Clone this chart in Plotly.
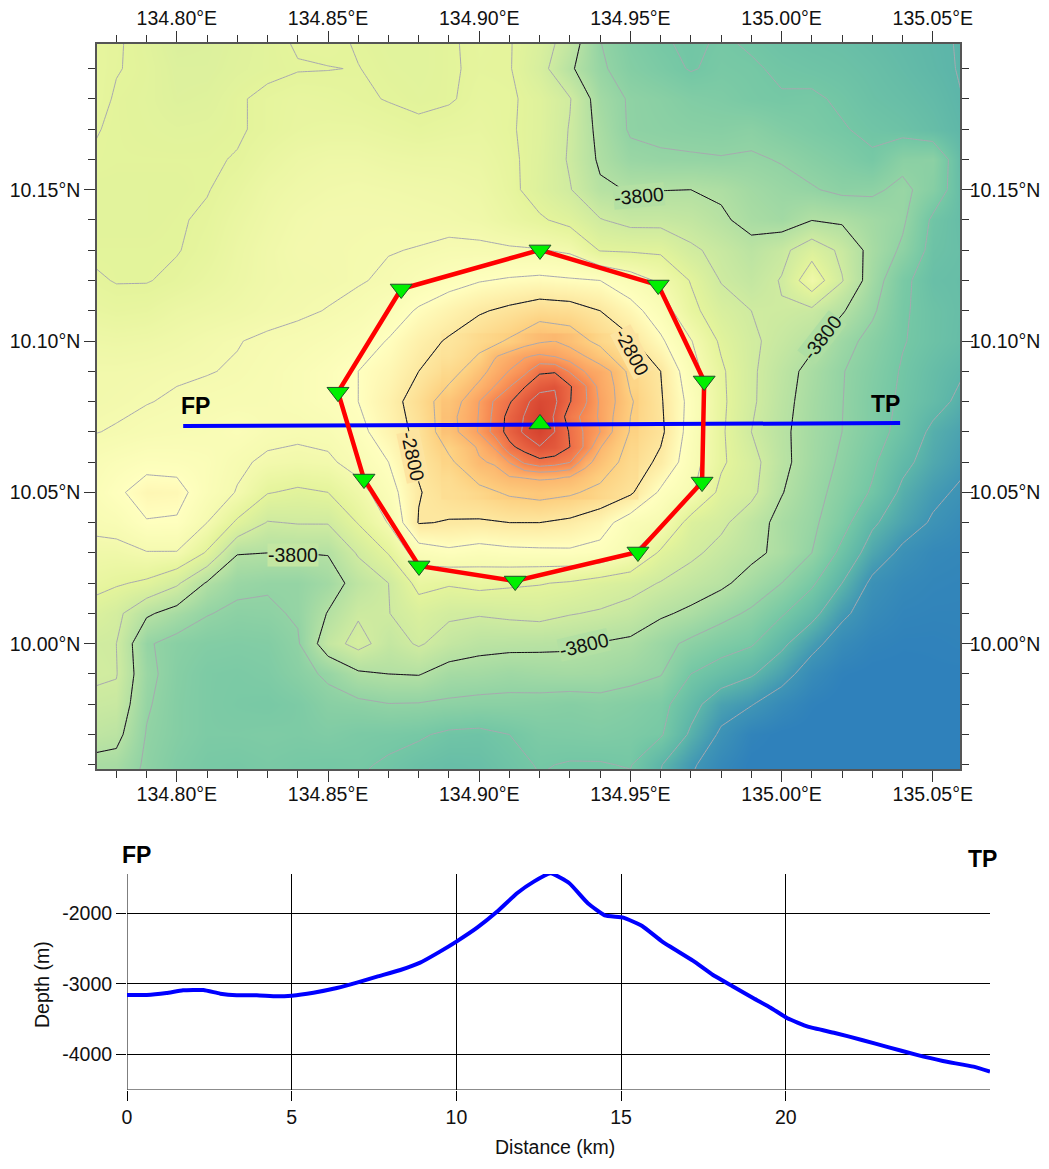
import plotly.graph_objects as go

FONT = "Liberation Sans, Arial, sans-serif"

# ---------- bathymetry grid (depth in m) ----------
lon_nodes = [134.77, 134.78, 134.79, 134.80, 134.81, 134.82, 134.83, 134.84, 134.85, 134.86,
             134.87, 134.88, 134.89, 134.90, 134.91, 134.92, 134.93, 134.94, 134.95, 134.96,
             134.97, 134.98, 134.99, 135.00, 135.01, 135.02, 135.03, 135.04, 135.05, 135.06]
lat_nodes = [10.20, 10.19, 10.18, 10.17, 10.16, 10.15, 10.14, 10.13, 10.12, 10.11, 10.10, 10.09, 10.08,
             10.07, 10.06, 10.05, 10.04, 10.03, 10.02, 10.01, 10.00, 9.99, 9.98, 9.97, 9.96, 9.95]

d1020 = [-3370,-3390,-3430,-3490,-3480,-3450,-3420,-3390,-3380,-3410,-3430,-3430,-3410,-3380,-3390,-3500,-3680,-4000,-4120,-4190,-4220,-4190,-4220,-4260,-4280,-4290,-4320,-4350,-4380,-4410]
d1019 = [-3360,-3395,-3420,-3470,-3470,-3440,-3420,-3405,-3402,-3398,-3420,-3430,-3410,-3385,-3390,-3530,-3770,-3970,-4090,-4150,-4210,-4170,-4185,-4220,-4240,-4260,-4290,-4330,-4370,-4410]
d1018 = [-3350,-3410,-3425,-3460,-3450,-3410,-3380,-3360,-3370,-3385,-3405,-3420,-3410,-3370,-3380,-3450,-3590,-3900,-4020,-4060,-4110,-4130,-4170,-4190,-4180,-4220,-4270,-4300,-4340,-4400]
d1017 = [-3390,-3410,-3420,-3430,-3425,-3410,-3380,-3350,-3340,-3340,-3360,-3380,-3360,-3350,-3385,-3450,-3610,-3860,-4020,-4040,-4060,-4070,-4050,-4110,-4150,-4190,-4230,-4260,-4310,-4380]
d1016 = [-3400,-3410,-3410,-3410,-3410,-3395,-3340,-3300,-3280,-3280,-3300,-3310,-3310,-3320,-3370,-3460,-3620,-3830,-3950,-3975,-3980,-3990,-3980,-4010,-4070,-4120,-4180,-4050,-4040,-4350]
d1015 = [-3420,-3420,-3420,-3420,-3405,-3360,-3300,-3270,-3250,-3240,-3250,-3260,-3270,-3290,-3360,-3470,-3590,-3770,-3810,-3805,-3800,-3830,-3900,-3950,-3985,-4040,-4030,-3960,-4080,-4330]
d1014 = [-3420,-3420,-3420,-3410,-3385,-3330,-3280,-3240,-3220,-3220,-3220,-3230,-3240,-3260,-3320,-3380,-3450,-3590,-3660,-3660,-3690,-3770,-3860,-3900,-3805,-3830,-3900,-3970,-4230,-4320]
d1013 = [-3410,-3410,-3410,-3405,-3370,-3310,-3260,-3225,-3220,-3215,-3205,-3195,-3170,-3170,-3180,-3190,-3230,-3410,-3420,-3430,-3570,-3650,-3740,-3650,-3480,-3640,-3870,-4030,-4260,-4300]
d1012 = [-3380,-3405,-3405,-3380,-3340,-3300,-3260,-3240,-3230,-3210,-3180,-3120,-3060,-3010,-2980,-2960,-2980,-3000,-3110,-3230,-3410,-3610,-3680,-3590,-3260,-3590,-3900,-4160,-4290,-4310]
d1011 = [-3340,-3360,-3350,-3310,-3290,-3270,-3240,-3220,-3195,-3160,-3090,-2980,-2900,-2820,-2760,-2700,-2720,-2800,-2930,-3100,-3350,-3510,-3600,-3610,-3640,-3780,-3970,-4180,-4260,-4310]
d1010 = [-3280,-3290,-3280,-3260,-3230,-3205,-3180,-3160,-3130,-3080,-2990,-2870,-2780,-2680,-2580,-2420,-2480,-2660,-2770,-2970,-3190,-3430,-3570,-3660,-3760,-3930,-4060,-4190,-4260,-4320]
d1009 = [-3240,-3240,-3230,-3215,-3205,-3190,-3160,-3120,-3070,-3000,-2930,-2800,-2680,-2480,-2190,-1820,-1990,-2320,-2650,-2800,-3120,-3370,-3570,-3720,-3860,-3990,-4100,-4215,-4310,-4390]
d1008 = [-3240,-3225,-3205,-3185,-3170,-3160,-3150,-3120,-3070,-3000,-2880,-2710,-2490,-2200,-1830,-1530,-1790,-2230,-2580,-2780,-3060,-3360,-3570,-3740,-3880,-3995,-4120,-4230,-4330,-4450]
d1007 = [-3210,-3190,-3160,-3145,-3130,-3090,-3150,-3165,-3145,-3050,-2905,-2750,-2480,-2130,-1720,-1460,-1820,-2130,-2620,-2760,-3080,-3370,-3600,-3760,-3890,-4000,-4120,-4260,-4440,-4520]
d1006 = [-3140,-3090,-3050,-3060,-3090,-3170,-3230,-3250,-3230,-3130,-3000,-2780,-2640,-2420,-2200,-1900,-1950,-2460,-2690,-2840,-3110,-3370,-3530,-3750,-3900,-4030,-4170,-4350,-4480,-4570]
d1005 = [-3130,-3030,-2930,-2940,-3100,-3210,-3390,-3430,-3400,-3270,-3090,-2810,-2720,-2660,-2570,-2530,-2570,-2660,-2770,-3030,-3170,-3450,-3550,-3790,-3930,-4070,-4220,-4440,-4560,-4630]
d1004 = [-3160,-3130,-3010,-3020,-3200,-3430,-3610,-3590,-3590,-3390,-3190,-2790,-2810,-2820,-2800,-2800,-2840,-2920,-3100,-3170,-3480,-3560,-3710,-3860,-3960,-4130,-4370,-4510,-4620,-4700]
d1003 = [-3260,-3260,-3210,-3210,-3420,-3790,-3800,-3800,-3790,-3580,-3390,-3100,-3040,-3080,-3050,-3040,-3030,-3060,-3180,-3430,-3560,-3660,-3750,-3850,-4000,-4250,-4490,-4640,-4720,-4740]
d1002 = [-3330,-3380,-3430,-3570,-3820,-3950,-3980,-3980,-3900,-3720,-3600,-3340,-3380,-3340,-3370,-3390,-3420,-3480,-3530,-3610,-3690,-3760,-3880,-4000,-4170,-4400,-4640,-4720,-4750,-4760]
d1001 = [-3460,-3550,-3770,-3880,-3990,-4040,-4030,-3980,-3790,-3620,-3605,-3500,-3570,-3585,-3560,-3540,-3590,-3620,-3670,-3770,-3840,-3940,-4030,-4180,-4340,-4560,-4700,-4760,-4770,-4770]
d1000 = [-3580,-3600,-3980,-4060,-4100,-4110,-4100,-4020,-3680,-3540,-3680,-3580,-3680,-3740,-3750,-3760,-3770,-3810,-3840,-3940,-4040,-4120,-4180,-4360,-4540,-4700,-4770,-4790,-4790,-4780]
d0999 = [-3570,-3590,-3950,-4080,-4140,-4150,-4130,-4060,-3970,-3830,-3800,-3790,-3880,-3890,-3920,-3900,-3890,-3900,-3940,-3990,-4200,-4290,-4380,-4520,-4700,-4790,-4810,-4810,-4800,-4800]
d0998 = [-3630,-3650,-3980,-4090,-4140,-4160,-4170,-4140,-4060,-4040,-4005,-4010,-4030,-4050,-4050,-4060,-4080,-4060,-4090,-4140,-4330,-4520,-4590,-4710,-4790,-4820,-4830,-4820,-4810,-4810]
d0997 = [-3700,-3740,-4010,-4090,-4140,-4140,-4130,-4140,-4120,-4150,-4160,-4180,-4230,-4240,-4200,-4140,-4130,-4120,-4140,-4180,-4430,-4630,-4770,-4810,-4820,-4830,-4830,-4830,-4820,-4820]
d0996 = [-3850,-3870,-4030,-4120,-4170,-4180,-4160,-4180,-4190,-4180,-4220,-4270,-4300,-4290,-4240,-4190,-4210,-4210,-4190,-4390,-4570,-4720,-4810,-4820,-4830,-4830,-4830,-4830,-4820,-4820]
d0995 = [-3900,-3920,-4060,-4140,-4180,-4190,-4180,-4200,-4210,-4220,-4260,-4300,-4320,-4310,-4270,-4220,-4230,-4240,-4260,-4440,-4640,-4770,-4820,-4830,-4830,-4830,-4830,-4830,-4820,-4820]

depth_grid = [d1020, d1019, d1018, d1017, d1016, d1015, d1014, d1013, d1012, d1011, d1010, d1009, d1008,
              d1007, d1006, d1005, d1004, d1003, d1002, d1001, d1000, d0999, d0998, d0997, d0996, d0995]

# finer grid over the summit
summit_lon = [134.89, 134.895, 134.90, 134.905, 134.91, 134.915, 134.92, 134.925, 134.93, 134.935, 134.94, 134.945, 134.95]
summit_lat = [10.10, 10.095, 10.09, 10.085, 10.08, 10.075, 10.07, 10.065, 10.06, 10.055, 10.05]
s1000 = [-2780,-2740,-2680,-2640,-2590,-2500,-2430,-2400,-2470,-2570,-2660,-2720,-2770]
s0995 = [-2750,-2690,-2620,-2420,-2320,-2220,-2170,-2210,-2300,-2400,-2520,-2620,-2730]
s0990 = [-2680,-2620,-2480,-2330,-2190,-2060,-1830,-1820,-2020,-2210,-2300,-2440,-2650]
s0985 = [-2620,-2490,-2360,-2200,-2010,-1810,-1670,-1610,-1780,-1980,-2270,-2410,-2640]
s0980 = [-2500,-2380,-2200,-1980,-1820,-1650,-1500,-1570,-1790,-1970,-2230,-2400,-2580]
s0975 = [-2470,-2340,-2190,-1950,-1730,-1590,-1440,-1620,-1900,-2060,-2230,-2430,-2590]
s0970 = [-2480,-2350,-2180,-1930,-1720,-1570,-1450,-1600,-1820,-2030,-2200,-2450,-2620]
s0965 = [-2620,-2500,-2370,-2180,-1850,-1720,-1610,-1650,-1800,-2030,-2390,-2540,-2660]
s0960 = [-2640,-2550,-2420,-2380,-2190,-1960,-1860,-1900,-1990,-2330,-2480,-2610,-2690]
s0955 = [-2700,-2630,-2550,-2480,-2410,-2390,-2370,-2380,-2410,-2500,-2600,-2660,-2720]
s0950 = [-2720,-2700,-2660,-2610,-2570,-2550,-2530,-2550,-2570,-2600,-2660,-2710,-2760]
summit_grid = [s1000, s0995, s0990, s0985, s0980, s0975, s0970, s0965, s0960, s0955, s0950]

depth_colors = [(-4800, "#2f81bb"), (-4600, "#3f95b5"), (-4400, "#5cb5a9"), (-4200, "#74c7a5"),
                (-4000, "#92d3a4"), (-3800, "#b3e0a3"), (-3600, "#cfeba0"), (-3400, "#e4f49b"),
                (-3200, "#f5fab0"), (-3000, "#ffffbf"), (-2800, "#fde8a0"), (-2600, "#fdd080"),
                (-2400, "#fcb86f"), (-2200, "#fba060"), (-2000, "#f68650"), (-1800, "#ee6e48"),
                (-1600, "#df5238"), (-1400, "#d3402e")]

# ---------- stations and profile track ----------
station_lon = [134.9201, 134.9592, 134.9744, 134.9737, 134.9525, 134.9119, 134.8801, 134.8619, 134.8533, 134.8742]
station_lat = [10.1301, 10.1185, 10.0868, 10.0534, 10.0303, 10.0207, 10.0257, 10.0544, 10.0831, 10.1172]
centre_lon = [134.9201]
centre_lat = [10.0726]
track_lon = [134.8021, 135.0392]
track_lat = [10.0719, 10.0729]

# ---------- depth profile ----------
profile_km = [0, 0.6, 1.2, 1.7, 2.32, 2.83, 3.33, 3.94, 4.55, 5, 5.66, 6.37, 6.98, 7.59, 8.3, 8.9, 9.5, 10,
              10.63, 11.24, 11.84, 12.35, 12.86, 13.43, 13.99, 14.5, 15.07, 15.64, 16.25, 17.18, 17.79,
              18.41, 19.02, 19.54, 20.05, 20.67, 21.49, 22.31, 23.13, 23.95, 24.77, 25.7, 26.2]
profile_depth = [-3156, -3156, -3127, -3090, -3085, -3137, -3160, -3160, -3175, -3165, -3123, -3057, -2981,
                 -2896, -2802, -2698, -2542, -2400, -2203, -1976, -1717, -1552, -1434, -1575, -1858, -2028,
                 -2061, -2179, -2400, -2670, -2873, -3038, -3203, -3335, -3486, -3604, -3693, -3792, -3896,
                 -4000, -4090, -4170, -4240]

lon_range = [134.7736, 135.059]
lat_range = [9.9586, 10.1983]
dist_range = [0, 26.2]
depth_range = [-4500, -1444]
dist_ticks = [0, 5, 10, 15, 20]
depth_ticks = [-2000, -3000, -4000]
depth_tick_text = ["-2000", "-3000", "-4000"]

# label text, lon, lat, rotation, background
contour_labels = [("-3800", 134.9527, 10.1480, -5, "#b4e0a3"),
                  ("-3800", 134.8385, 10.0292, 0, "#c3e6a2"),
                  ("-3800", 134.9345, 9.9995, -13, "#b3e0a3"),
                  ("-3800", 135.0135, 10.1013, -52, "#aedea3"),
                  ("-2800", 134.9505, 10.0963, 62, "#fce3a0"),
                  ("-2800", 134.8782, 10.0618, 78, "#fde4a0")]

W, H = 1049, 1169
L1, R1, T1, B1 = 97, 960, 43.5, 769
L2, R2, T2, B2 = 127, 990, 874, 1090
span = depth_colors[-1][0] - depth_colors[0][0]
cscale = [[(v - depth_colors[0][0]) / span, c] for v, c in depth_colors]
TXT = 19.5

fig = go.Figure()
for xs, ys, zs in [(lon_nodes, lat_nodes, depth_grid), (summit_lon, summit_lat, summit_grid)]:
    fig.add_trace(go.Heatmap(x=xs, y=ys, z=zs, colorscale=cscale, zmin=-4800, zmax=-1400,
                             zsmooth="best", showscale=False, hoverinfo="skip"))
fig.add_trace(go.Contour(x=lon_nodes, y=lat_nodes, z=depth_grid, showscale=False, hoverinfo="skip",
                         contours=dict(coloring="none", start=-4600, end=-2600, size=200),
                         line=dict(color="#a8a8b0", width=1, smoothing=0)))
fig.add_trace(go.Contour(x=summit_lon, y=summit_lat, z=summit_grid, showscale=False, hoverinfo="skip",
                         contours=dict(coloring="none", start=-2400, end=-1600, size=200),
                         line=dict(color="#a8a8b0", width=1, smoothing=0)))
fig.add_trace(go.Contour(x=lon_nodes, y=lat_nodes, z=depth_grid, showscale=False, hoverinfo="skip",
                         contours=dict(coloring="none", start=-3800, end=-2800, size=1000),
                         line=dict(color="#111111", width=1, smoothing=0)))
fig.add_trace(go.Contour(x=summit_lon, y=summit_lat, z=summit_grid, showscale=False, hoverinfo="skip",
                         contours=dict(coloring="none", start=-1800, end=-1800, size=1000),
                         line=dict(color="#111111", width=1, smoothing=0)))
fig.add_trace(go.Scatter(x=track_lon, y=track_lat, mode="lines", xaxis="x3", yaxis="y3",
                         line=dict(color="#0000ff", width=4), hoverinfo="skip"))
fig.add_trace(go.Scatter(x=station_lon + station_lon[:1], y=station_lat + station_lat[:1], mode="lines",
                         xaxis="x3", yaxis="y3", line=dict(color="#ff0000", width=4.5), hoverinfo="skip"))
fig.add_trace(go.Scatter(x=station_lon, y=station_lat, mode="markers", xaxis="x3", yaxis="y3",
                         marker=dict(symbol="triangle-down", size=19, color="#00f000",
                                     line=dict(color="#20502a", width=1)), hoverinfo="skip"))
fig.add_trace(go.Scatter(x=centre_lon, y=centre_lat, mode="markers", xaxis="x3", yaxis="y3",
                         marker=dict(symbol="triangle-up", size=19, color="#00f000",
                                     line=dict(color="#20502a", width=1)), hoverinfo="skip"))
fig.add_trace(go.Scatter(x=profile_km, y=profile_depth, mode="lines", xaxis="x2", yaxis="y2", cliponaxis=False,
                         line=dict(color="#0000ff", width=4, shape="spline", smoothing=0.4), hoverinfo="skip"))

frame = dict(showgrid=False, zeroline=False, showline=True, linecolor="#555555", linewidth=1.5, automargin=False,
             tickcolor="#333333", tickwidth=1, ticks="outside", ticklen=11,
             tickfont=dict(family=FONT, size=TXT, color="#111111"),
             minor=dict(ticks="outside", ticklen=7, tickcolor="#333333", tickwidth=1, showgrid=False))
xbase = dict(frame, range=lon_range, tick0=134.80, dtick=0.05, tickformat=".2f", ticksuffix="°E",
             domain=[L1 / W, R1 / W])
xbase["minor"] = dict(frame["minor"], tick0=134.80, dtick=0.01)
ybase = dict(frame, range=lat_range, tick0=10.00, dtick=0.05, tickformat=".2f", ticksuffix="°N",
             domain=[1 - B1 / H, 1 - T1 / H])
ybase["minor"] = dict(frame["minor"], tick0=10.00, dtick=0.01)

annotations = []
for text, lo, la, ang, bg in contour_labels:
    annotations.append(dict(x=lo, y=la, xref="x3", yref="y3", text=text, textangle=ang, showarrow=False,
                            bgcolor=bg, borderpad=0, font=dict(family=FONT, size=TXT, color="#111111")))
for text, lo, la in [("FP", 134.8063, 10.0785), ("TP", 135.0342, 10.0792)]:
    annotations.append(dict(x=lo, y=la, xref="x3", yref="y3", text="<b>%s</b>" % text, showarrow=False,
                            font=dict(family=FONT, size=23, color="#000000")))
for text, px, py in [("FP", 136, 855), ("TP", 982, 859)]:
    annotations.append(dict(x=px / W, y=1 - py / H, xref="paper", yref="paper", xanchor="center", yanchor="middle",
                            text="<b>%s</b>" % text, showarrow=False,
                            font=dict(family=FONT, size=23, color="#000000")))
annotations.append(dict(x=555 / W, y=1 - 1147 / H, xref="paper", yref="paper", xanchor="center", yanchor="middle",
                        text="Distance (km)", showarrow=False, font=dict(family=FONT, size=TXT, color="#111111")))
annotations.append(dict(x=42 / W, y=1 - 985 / H, xref="paper", yref="paper", xanchor="center", yanchor="middle",
                        text="Depth (m)", textangle=-90, showarrow=False,
                        font=dict(family=FONT, size=TXT, color="#111111")))

fig.update_layout(
    width=W, height=H, autosize=False, showlegend=False, paper_bgcolor="white", plot_bgcolor="white",
    margin=dict(l=0, r=0, t=0, b=0),
    xaxis=dict(xbase, side="bottom", anchor="y", ticklabelstandoff=-4),
    yaxis=dict(ybase, side="left", anchor="x"),
    xaxis3=dict(xbase, side="top", anchor="y3", overlaying="x", ticklabelstandoff=-2),
    yaxis3=dict(ybase, side="right", anchor="x3", overlaying="y", ticklabelstandoff=-7),
    xaxis2=dict(range=dist_range, domain=[L2 / W, R2 / W], anchor="y2", tickvals=dist_ticks, showgrid=True,
                automargin=False, gridcolor="#000000", gridwidth=1, zeroline=False, showline=False, ticks="outside",
                ticklen=10, tickcolor="#000000", tickfont=dict(family=FONT, size=TXT, color="#111111")),
    yaxis2=dict(range=depth_range, domain=[1 - B2 / H, 1 - T2 / H], anchor="x2", tickvals=depth_ticks,
                ticktext=depth_tick_text, automargin=False, showgrid=True, gridcolor="#000000", gridwidth=1,
                zeroline=False, showline=False, ticks="outside", ticklen=10, tickcolor="#000000",
                tickfont=dict(family=FONT, size=TXT, color="#111111")),
    annotations=annotations,
    shapes=[dict(type="line", xref="x2", yref="y2", x0=dist_range[0], x1=dist_range[1], y0=depth_range[0],
                 y1=depth_range[0], line=dict(color="#666666", width=1.5), layer="below"),
            dict(type="line", xref="x2", yref="y2", x0=0, x1=0, y0=depth_range[0], y1=depth_range[1],
                 line=dict(color="#555555", width=1.5), layer="below")],
)
fig.write_html("out.html", config={"displayModeBar": False}, post_script="document.body.style.margin='0';")
